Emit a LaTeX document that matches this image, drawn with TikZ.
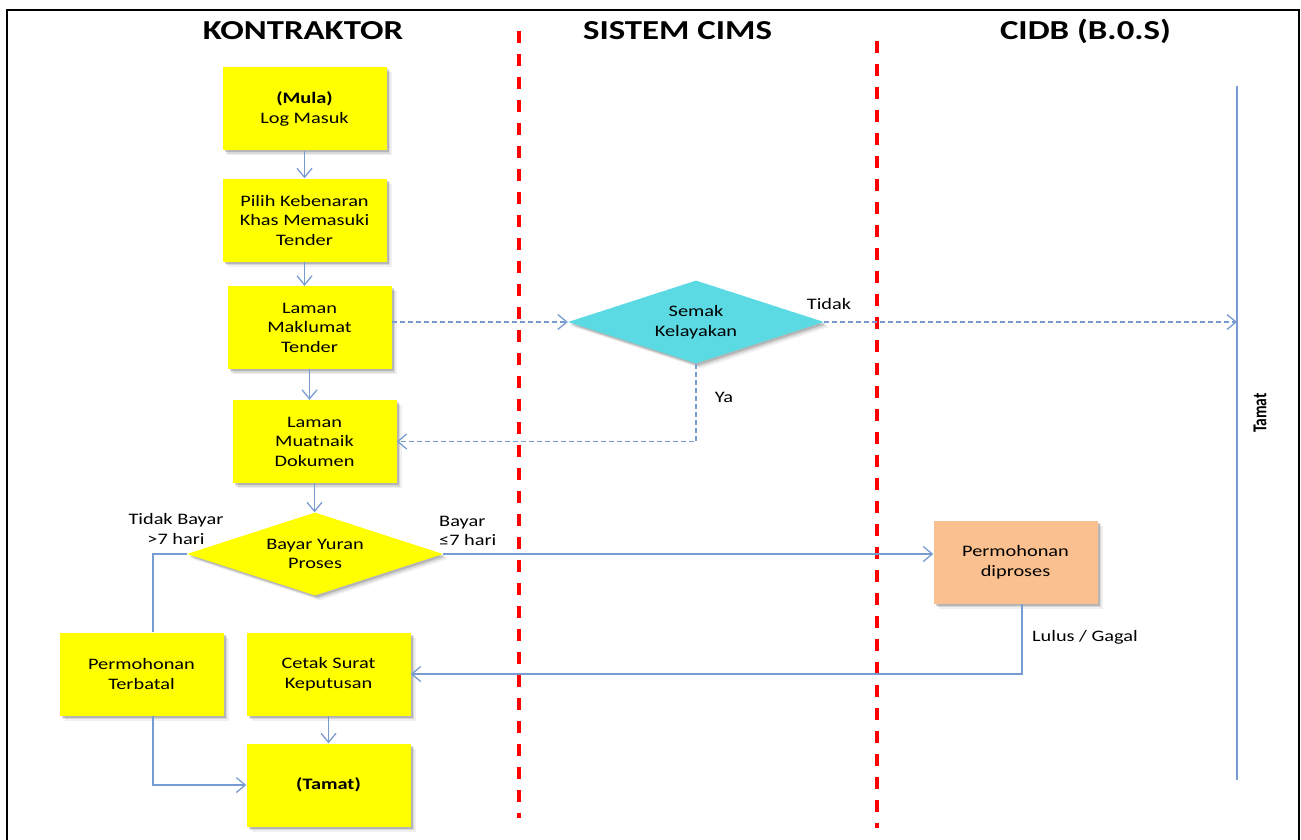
\documentclass[tikz,border=0pt]{standalone}
\usepackage{fontspec}
\setmainfont{Carlito}[FakeStretch=1.27]
\newfontfamily\plaincarlito{Carlito}
\usetikzlibrary{arrows.meta,shapes.geometric,shadows,calc}
\definecolor{lineblue}{RGB}{120,155,210}
\definecolor{boxyellow}{RGB}{255,255,0}
\definecolor{cyanbox}{RGB}{91,218,227}
\definecolor{orangebox}{RGB}{250,192,144}
\definecolor{lanered}{RGB}{255,0,0}
\newcommand\myBody{\fontsize{16}{19.5}\selectfont}
\newcommand\myHead{\fontsize{27.4}{30}\selectfont\bfseries}
\begin{document}
\begin{tikzpicture}[x=1pt,y=-1pt,
  softshadow/.style={
    drop shadow={shadow xshift=2pt,shadow yshift=-2pt,opacity=0.16,fill=black},
    drop shadow={shadow xshift=3.5pt,shadow yshift=-3.5pt,opacity=0.10,fill=black},
    drop shadow={shadow xshift=5pt,shadow yshift=-5pt,opacity=0.06,fill=black}},
  box/.style={rectangle, fill=boxyellow, minimum width=164pt, minimum height=83pt,
    align=center, inner sep=2pt, font=\myBody, softshadow},
  obox/.style={box, fill=orangebox},
  ydec/.style={diamond, aspect=3, minimum width=256pt, minimum height=83pt,
    inner sep=0pt, align=center, fill=boxyellow, font=\myBody, softshadow},
  cdec/.style={ydec, fill=cyanbox},
  plainline/.style={draw=lineblue, line width=1.3pt},
  flow/.style={plainline, -{Straight Barb[length=9pt,width=15pt]}},
  dflow/.style={flow, dash pattern=on 5pt off 3pt},
  dline/.style={plainline, dash pattern=on 5pt off 3pt},
  lane/.style={draw=lanered, line width=4pt, dash pattern=on 12pt off 11pt},
  lbl/.style={font=\myBody, inner sep=1pt},
  head/.style={font=\myHead, inner sep=0pt}]
\useasboundingbox (0,0) rectangle (1301,840);
% frame
\draw[line width=2pt] (7,850) -- (7,10) -- (1299,10) -- (1299,850);
% swimlane separators
\draw[lane] (519,31) -- (519,818);
\draw[lane] (877,41) -- (877,828);
% headings
\node[head] (h1) at (303,31) {KONTRAKTOR};
\node[head] (h2) at (677.5,31) {SISTEM CIMS};
\node[head] (h3) at (1085.5,31) {CIDB (B.0.S)};
% nodes
\node[box] (b1) at (304.5,109) {\textbf{(Mula)}\\Log Masuk};
\node[box] (b2) at (304.5,220) {Pilih Kebenaran\\Khas Memasuki\\Tender};
\node[box] (b3) at (309.5,327.5) {Laman\\Maklumat\\Tender};
\node[box] (b4) at (314.5,441.5) {Laman\\Muatnaik\\Dokumen};
\node[ydec] (d2) at (315,554) {Bayar Yuran\\Proses};
\node[cdec] (d1) at (696,322) {Semak\\Kelayakan};
\node[obox] (dp) at (1015.5,562) {Permohonan\\diproses};
\node[box] (pt) at (141.5,674) {Permohonan\\Terbatal};
\node[box] (cs) at (328.5,674) {Cetak Surat\\Keputusan};
\node[box] (tb) at (328.5,785) {\textbf{(Tamat)}};
% Tamat line
\coordinate (tl1) at (1237,86);
\coordinate (tl2) at (1237,780);
\draw[plainline] (tl1) -- (tl2);
\node[rotate=90, inner sep=0pt] (tt) at (1260,413) {\scalebox{1}[1.27]{\plaincarlito\fontsize{15.5}{18}\selectfont\bfseries Tamat}};
% connectors
\draw[flow] (b1.south) -- (b2.north);
\draw[flow] (b2.south) -- (b2.south |- b3.north);
\draw[flow] (b3.south) -- (b3.south |- b4.north);
\draw[flow] (b4.south) -- (b4.south |- d2.north);
\draw[flow] (cs.south) -- (tb.north);
\draw[dflow] (d1.west -| b3.east) -- (d1.west);
\draw[dflow] (d1.east) -- (d1.east -| tl1);
\draw[dflow] (d1.south) |- (b4.east);
\draw[flow] (d2.east) -- (d2.east -| dp.west);
\draw[flow] ([xshift=6.5pt]dp.south) |- (cs.east);
\coordinate (tj) at (153,554);
\draw[plainline] (d2.west) -- (tj) -- (tj |- pt.north);
\draw[flow] (tj |- pt.south) |- (tb.west);
% labels
\node[lbl] (ltd) at (829,304) {Tidak};
\node[lbl] (lya) at (724,397) {Ya};
\node[lbl, align=center] (ltb) at (176,529) {Tidak Bayar\\>7 hari};
\node[lbl, align=left, anchor=west] (lby) at (438,531) {Bayar\\≤7 hari};
\node[lbl] (llg) at (1085,637) {Lulus / Gagal};
\end{tikzpicture}
\end{document}
